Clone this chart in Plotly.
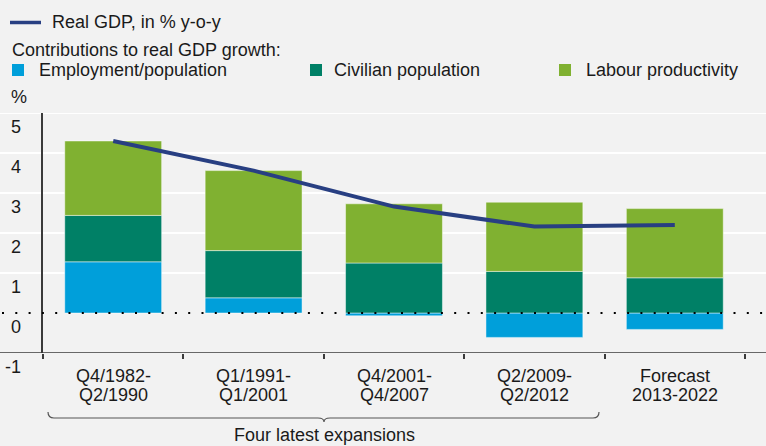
import plotly.graph_objects as go

# Contributions to US real GDP growth per expansion, % y-o-y
periods_top = ["Q4/1982-", "Q1/1991-", "Q4/2001-", "Q2/2009-", "Forecast"]
periods_bottom = ["Q2/1990", "Q1/2001", "Q4/2007", "Q2/2012", "2013-2022"]
employment_population = [1.28, 0.38, -0.07, -0.61, -0.41]
civilian_population = [1.16, 1.18, 1.25, 1.04, 0.88]
labour_productivity = [1.86, 2.00, 1.48, 1.73, 1.73]
real_gdp = [4.30, 3.56, 2.66, 2.16, 2.20]
y_ticks = [-1, 0, 1, 2, 3, 4, 5]

categories = [f"{a}<br>{b}" for a, b in zip(periods_top, periods_bottom)]

W, H = 766, 446
L, R, T, B = 43, 21, 113, 93
PW, PH = W - L - R, H - T - B

BG = "#F2F2F2"
BLUE = "#009FDA"
TEAL = "#008066"
GREEN = "#80B131"
NAVY = "#283F82"
TEXT = "#1A1A1A"
AXIS = "#3A3A3A"
FONT = "Liberation Sans, Arial, sans-serif"


def px_x(px):
    return (px - L) / PW


def px_y(py):
    return (H - B - py) / PH


fig = go.Figure()
edge = dict(color="rgba(255,255,255,0.45)", width=1)
for name, vals, col in [
    ("Employment/population", employment_population, BLUE),
    ("Civilian population", civilian_population, TEAL),
    ("Labour productivity", labour_productivity, GREEN),
]:
    fig.add_trace(go.Bar(x=categories, y=vals, name=name, width=0.69,
                         marker=dict(color=col, line=edge), showlegend=False))

fig.add_trace(go.Scatter(x=categories, y=real_gdp, mode="lines", name="Real GDP, in % y-o-y",
                         line=dict(color=NAVY, width=4), showlegend=False))

shapes = []
# white gridlines across the full width
for v in y_ticks:
    if v in (0, -1):
        continue
    shapes.append(dict(type="line", xref="paper", yref="y", x0=px_x(0), x1=px_x(W), y0=v, y1=v,
                       line=dict(color="white", width=2), layer="below"))
# bottom axis line across the full width
shapes.append(dict(type="line", xref="paper", yref="y", x0=px_x(0), x1=px_x(W), y0=-1, y1=-1,
                   line=dict(color=AXIS, width=1.5), layer="above"))
# dotted zero line
shapes.append(dict(type="line", xref="paper", yref="y", x0=px_x(2), x1=px_x(W), y0=0, y1=0,
                   line=dict(color="black", width=2, dash="2px,11.3px"), layer="above"))

# brace under the four expansions
pts = [(48, 412), (48, 418), (54, 418), (318, 418), (324, 418), (324, 422), (324, 418), (330, 418),
       (593, 418), (599, 418), (599, 412)]
P = [(px_x(a), px_y(b)) for a, b in pts]
path = (f"M {P[0][0]},{P[0][1]} Q {P[1][0]},{P[1][1]} {P[2][0]},{P[2][1]} "
        f"L {P[3][0]},{P[3][1]} Q {P[4][0]},{P[4][1]} {P[5][0]},{P[5][1]} "
        f"Q {P[6][0]},{P[6][1]} {P[7][0]},{P[7][1]} L {P[8][0]},{P[8][1]} "
        f"Q {P[9][0]},{P[9][1]} {P[10][0]},{P[10][1]}")
shapes.append(dict(type="path", xref="paper", yref="paper", path=path,
                   line=dict(color="#555555", width=1.2)))

# legend symbols
shapes.append(dict(type="line", xref="paper", yref="paper", x0=px_x(10), x1=px_x(41),
                   y0=px_y(22.5), y1=px_y(22.5), line=dict(color=NAVY, width=3.5)))
for x0, col in [(12, BLUE), (310, TEAL), (559, GREEN)]:
    shapes.append(dict(type="rect", xref="paper", yref="paper", x0=px_x(x0), x1=px_x(x0 + 12),
                       y0=px_y(76), y1=px_y(64), fillcolor=col, line=dict(width=0)))

ann = []
tf = dict(family=FONT, size=18, color=TEXT)


def text(x, y, s, xa="left", ya="middle", **kw):
    ann.append(dict(xref="paper", yref="paper", x=px_x(x), y=px_y(y), text=s, showarrow=False,
                    xanchor=xa, yanchor=ya, font=tf, **kw))


text(50, 22.5, "Real GDP, in % y-o-y")
text(10, 50, "Contributions to real GDP growth:")
text(37, 70, "Employment/population")
text(332, 70, "Civilian population")
text(584, 70, "Labour productivity")
text(9, 97, "%")
text(324, 435, "Four latest expansions", xa="center")

# y tick labels sit just below their gridlines
for v in y_ticks:
    ann.append(dict(xref="paper", yref="y", x=px_x(23), y=v, yshift=-13.5, text=str(v),
                    showarrow=False, xanchor="right", yanchor="middle", font=tf))
# two-line category labels
for c, a, b in zip(categories, periods_top, periods_bottom):
    ann.append(dict(xref="x", yref="paper", x=c, y=px_y(376), text=a, showarrow=False,
                    xanchor="center", yanchor="middle", font=tf))
    ann.append(dict(xref="x", yref="paper", x=c, y=px_y(395), text=b, showarrow=False,
                    xanchor="center", yanchor="middle", font=tf))

fig.update_layout(
    width=W, height=H, margin=dict(l=L, r=R, t=T, b=B),
    paper_bgcolor=BG, plot_bgcolor=BG, barmode="relative", bargap=0.31,
    font=tf, shapes=shapes, annotations=ann,
    xaxis=dict(type="category", tickson="boundaries", ticks="outside", ticklen=5, tickwidth=1.5,
               tickcolor=AXIS, showticklabels=False, showgrid=False, zeroline=False,
               showline=False, range=[-0.5, 4.5]),
    yaxis=dict(range=[-1, 5], showgrid=False, zeroline=False, showticklabels=False,
               showline=True, linecolor=AXIS, linewidth=2, ticks=""),
)

fig.write_html("out.html")
